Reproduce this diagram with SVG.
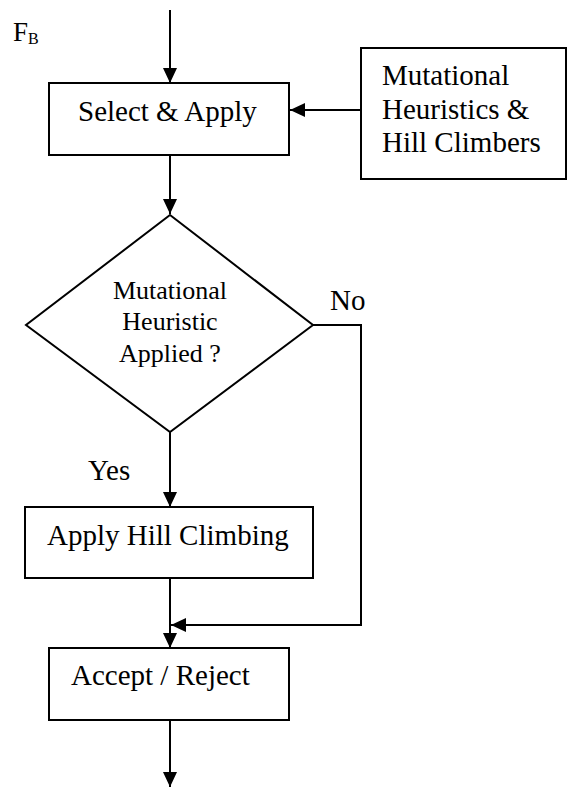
<svg xmlns="http://www.w3.org/2000/svg" width="568" height="787" viewBox="0 0 568 787" font-family="'Liberation Serif', 'Times New Roman', 'DejaVu Serif', serif">
<style>
.box{fill:#fff;stroke:#000;stroke-width:2}
.ln{fill:none;stroke:#000;stroke-width:2}
text{font-family:'Liberation Serif','Times New Roman','DejaVu Serif',serif;fill:#000}
.t{font-size:29px}
.d{font-size:26px;text-anchor:middle}
</style>
<defs>
<marker id="ah" markerWidth="15" markerHeight="14" refX="15" refY="7" orient="auto" markerUnits="userSpaceOnUse">
<path d="M0,0 L15,7 L0,14 Z" fill="#000"/>
</marker>
</defs>
<g id="connectors">
<line class="ln" x1="170" y1="10" x2="170" y2="83" marker-end="url(#ah)"/>
<line class="ln" x1="361" y1="110" x2="290" y2="110" marker-end="url(#ah)"/>
<line class="ln" x1="170" y1="155" x2="170" y2="214" marker-end="url(#ah)"/>
<line class="ln" x1="170" y1="432" x2="170" y2="507" marker-end="url(#ah)"/>
<line class="ln" x1="170" y1="578" x2="170" y2="648" marker-end="url(#ah)"/>
<polyline class="ln" points="313,325 361,325 361,625 171,625" marker-end="url(#ah)"/>
<line class="ln" x1="170" y1="720" x2="170" y2="787" marker-end="url(#ah)"/>
<text class="t" x="330" y="310">No</text>
<text class="t" x="88" y="480">Yes</text>
</g>
<g id="fb">
<text x="13" y="41" font-size="27">F<tspan font-size="16" dy="3">B</tspan></text>
</g>
<g id="select">
<rect class="box" x="49" y="83" width="240" height="72"/>
<text class="t" x="78" y="121">Select &amp; Apply</text>
</g>
<g id="heuristics">
<rect class="box" x="361" y="48" width="205" height="131"/>
<text class="t" x="382" y="85">Mutational</text>
<text class="t" x="382" y="119">Heuristics &amp;</text>
<text class="t" x="382" y="152">Hill Climbers</text>
</g>
<g id="decision">
<polygon class="box" points="170,215 313,325 170,432 26,325"/>
<text class="d" x="170" y="299">Mutational</text>
<text class="d" x="170" y="330">Heuristic</text>
<text class="d" x="170" y="362">Applied ?</text>
</g>
<g id="hill">
<rect class="box" x="25" y="507" width="288" height="71"/>
<text class="t" x="47" y="545">Apply Hill Climbing</text>
</g>
<g id="accept">
<rect class="box" x="49" y="648" width="240" height="72"/>
<text class="t" x="71" y="685">Accept / Reject</text>
</g>
</svg>
